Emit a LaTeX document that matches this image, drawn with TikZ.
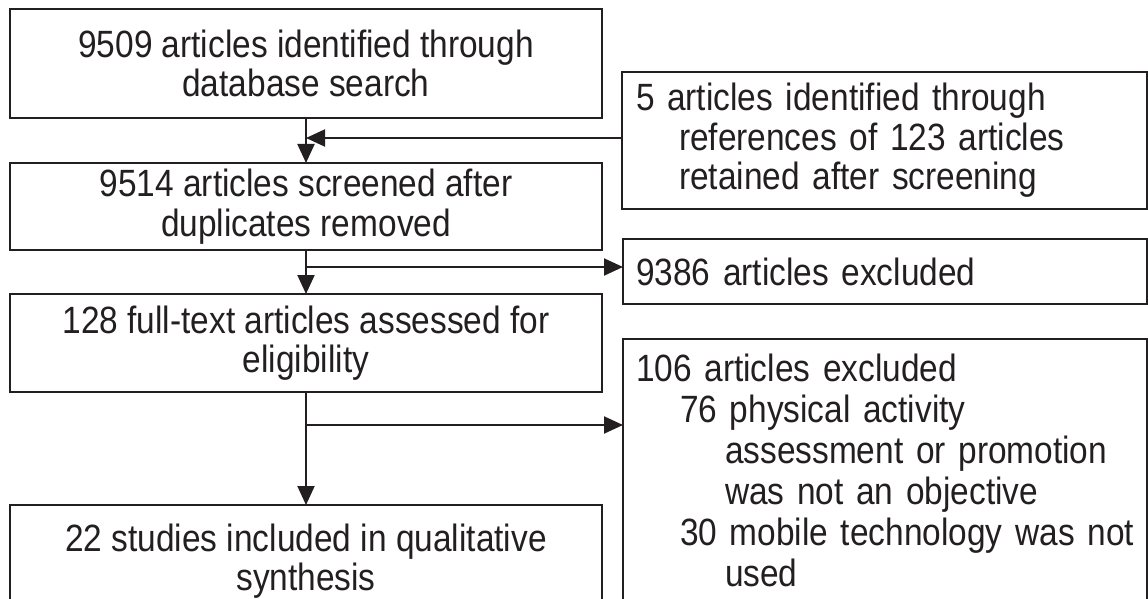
\documentclass[tikz,border=0pt]{standalone}
\usepackage{fontspec}
\setmainfont{Liberation Sans}[FakeStretch=0.88]
\usetikzlibrary{arrows.meta}
\definecolor{ink}{RGB}{35,31,32}
\begin{document}
\begin{tikzpicture}[x=1pt,y=-1pt,
  box/.style={draw=ink, line width=2pt, outer sep=0pt, text=ink,
    font=\fontsize{38}{39.5}\selectfont},
  lbox/.style={box, anchor=north west, align=center, inner sep=0pt,
    minimum width=592pt},
  rbox/.style={box, anchor=north west, align=left, inner ysep=0pt},
  arr/.style={draw=ink, line width=2pt, -{Triangle[length=19pt,width=17pt]}}
]
\useasboundingbox (0,0) rectangle (1148,599);
\clip (0,0) rectangle (1148,599);
% left column
\node[lbox, minimum height=109pt] (b1) at (10,9)
  {9509 articles identified through\\database search};
\node[lbox, minimum height=87pt] (b2) at (10,163)
  {9514 articles screened after\\duplicates removed};
\node[lbox, minimum height=98pt] (b3) at (10,294)
  {128 full-text articles assessed for\\eligibility};
\node[lbox, minimum height=112pt] (b4) at (10,505)
  {22 studies included in qualitative\\synthesis};
% right column
\node[rbox, inner xsep=14pt, text width=497pt, minimum height=137pt] (rA) at (622,72)
  {\mbox{5 articles identified through}\\
   \mbox{\hspace*{43pt}references of 123 articles}\\
   \mbox{\hspace*{43pt}retained after screening}};
\node[rbox, inner xsep=13pt, text width=498pt, minimum height=65pt] (rX) at (623,239)
  {\mbox{9386 articles excluded}};
\node[rbox, inner xsep=13pt, text width=498pt, minimum height=262pt,
  font=\fontsize{38}{41}\selectfont] (rB) at (623,339)
  {\mbox{106 articles excluded}\\
   \mbox{\hspace*{44pt}76 physical activity}\\
   \mbox{\hspace*{89pt}assessment or promotion}\\
   \mbox{\hspace*{89pt}was not an objective}\\
   \mbox{\hspace*{44pt}30 mobile technology was not}\\
   \mbox{\hspace*{89pt}used}};
% junctions
\coordinate (j1) at (306,138);
\coordinate (j2) at (306,267);
\coordinate (j3) at (306,425);
% connectors
\draw[arr] (b1.south) -- (b2.north);
\draw[arr] (rA.west |- j1) -- (j1);
\draw[arr] (b2.south) -- (b3.north);
\draw[arr] (j2) -- (j2 -| rX.west);
\draw[arr] (b3.south) -- (b4.north);
\draw[arr] (j3) -- (j3 -| rB.west);
\end{tikzpicture}
\end{document}
